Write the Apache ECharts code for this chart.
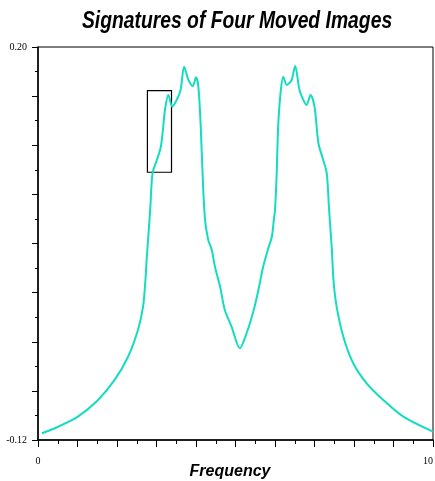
<!DOCTYPE html>
<html>
<head>
<meta charset="utf-8">
<script src="https://cdn.jsdelivr.net/npm/echarts@6/dist/echarts.min.js"></script>
<style>
  html, body { margin: 0; padding: 0; background: #fff; }
  #chart { width: 435px; height: 481px; }
</style>
</head>
<body>
<div id="chart"></div>
<script>
// Frequency samples and the magnitude of the signature at each one
const frequency = [
  0.10, 0.51, 1.01, 1.52, 1.94, 2.28, 2.53, 2.66, 2.72, 2.75, 2.84, 2.90,
  3.01, 3.11, 3.17, 3.22, 3.30, 3.40, 3.51, 3.61, 3.70, 3.81, 3.92, 4.00,
  4.06, 4.12, 4.18, 4.23, 4.31, 4.40, 4.48, 4.61, 4.73, 4.90, 5.11, 5.28,
  5.45, 5.58, 5.70, 5.83, 5.92, 5.97, 6.00, 6.04, 6.08, 6.14, 6.21, 6.30,
  6.42, 6.51, 6.62, 6.72, 6.80, 6.90, 7.00, 7.10, 7.22, 7.31, 7.37, 7.44,
  7.48, 7.56, 7.73, 7.98, 8.32, 8.74, 9.25, 10.0
];
const magnitude = [
  -0.1145, -0.1092, -0.1010, -0.0874, -0.0711, -0.0522, -0.0304, -0.0114, 0.0103, 0.0266, 0.0673, 0.0972,
  0.1080, 0.1188, 0.1351, 0.1501, 0.1609, 0.1514, 0.1568, 0.1650, 0.1840, 0.1731, 0.1682, 0.1753,
  0.1677, 0.1351, 0.0863, 0.0591, 0.0429, 0.0347, 0.0211, 0.0048, -0.0141, -0.0277, -0.0453, -0.0331,
  -0.0155, 0.0022, 0.0211, 0.0361, 0.0455, 0.0591, 0.0673, 0.0944, 0.1351, 0.1623, 0.1758, 0.1691,
  0.1731, 0.1845, 0.1650, 0.1568, 0.1528, 0.1609, 0.1514, 0.1216, 0.1080, 0.0972, 0.0673, 0.0347,
  0.0103, -0.0114, -0.0359, -0.0575, -0.0738, -0.0874, -0.1010, -0.1132
];

// Highlighted window: [x0, x1] by [y0, y1]
const boxX = [2.77, 3.38];
const boxY = [0.098, 0.1644];

// Axis ranges and the only tick values that carry a label
const xRange = [0, 10];
const yRange = [-0.12, 0.20];
const xLabelled = [0, 10];
const yLabelled = [-0.12, 0.20];

const near = (v, list) => list.some(t => Math.abs(v - t) < 1e-9);

const headingFont = '"Liberation Sans", Arial, sans-serif';

const chart = echarts.init(document.getElementById('chart'), null, { renderer: 'canvas' });

chart.setOption({
  animation: false,
  backgroundColor: '#ffffff',
  graphic: [{
    // condensed bold-italic heading, centred over the plot
    type: 'text',
    x: 237,
    y: 22,
    scaleX: 0.84,
    style: {
      text: 'Signatures of Four Moved Images',
      align: 'center',
      verticalAlign: 'middle',
      fontFamily: headingFont,
      fontSize: 23,
      fontWeight: 'bold',
      fontStyle: 'italic',
      fill: '#000'
    }
  }, {
    // x-axis title
    type: 'text',
    x: 230,
    y: 472,
    style: {
      text: 'Frequency',
      align: 'center',
      verticalAlign: 'middle',
      fontFamily: headingFont,
      fontSize: 16,
      fontWeight: 'bold',
      fontStyle: 'italic',
      fill: '#000'
    }
  }],
  grid: {
    left: 38, right: 2, top: 47, bottom: 41,
    containLabel: false,
    outerBoundsMode: 'none',
    show: true, borderColor: '#000', borderWidth: 1, backgroundColor: 'transparent'
  },
  xAxis: {
    type: 'value',
    min: xRange[0], max: xRange[1], interval: 1,
    axisLine: { show: true, onZero: false, lineStyle: { color: '#000', width: 1.5 } },
    axisTick: { show: true, inside: false, length: 7, lineStyle: { color: '#000', width: 1 } },
    minorTick: { show: true, splitNumber: 2, length: 4, lineStyle: { color: '#000', width: 1 } },
    splitLine: { show: false },
    axisLabel: {
      margin: 16,
      alignMaxLabel: 'right',
      fontFamily: '"Liberation Serif", "Times New Roman", serif',
      fontSize: 10, color: '#000',
      formatter: v => near(v, xLabelled) ? String(Math.round(v)) : ''
    }
  },
  yAxis: {
    type: 'value',
    min: yRange[0], max: yRange[1], interval: 0.04,
    name: 'Magnitude',
    nameLocation: 'middle',
    nameRotate: 90,
    nameGap: 13,
    nameTextStyle: {
      fontFamily: headingFont,
      fontSize: 16, fontWeight: 'bold', fontStyle: 'italic', color: '#000'
    },
    axisLine: { show: true, onZero: false, lineStyle: { color: '#000', width: 1.5 } },
    axisTick: { show: true, inside: false, length: 6, lineStyle: { color: '#000', width: 1 } },
    minorTick: { show: true, splitNumber: 2, length: 3, lineStyle: { color: '#000', width: 1 } },
    splitLine: { show: false },
    axisLabel: {
      margin: 11,
      fontFamily: '"Liberation Serif", "Times New Roman", serif',
      fontSize: 10, color: '#000',
      formatter: v => near(v, yLabelled) ? v.toFixed(2) : ''
    }
  },
  series: [{
    type: 'line',
    data: frequency.map((f, i) => [f, magnitude[i]]),
    showSymbol: false,
    smooth: 0.3,
    lineStyle: { color: '#14dcc0', width: 2 },
    markArea: {
      silent: true,
      itemStyle: { color: 'rgba(0,0,0,0)', borderColor: '#000', borderWidth: 1.2 },
      data: [[
        { coord: [boxX[0], boxY[1]] },
        { coord: [boxX[1], boxY[0]] }
      ]]
    }
  }]
});
</script>
</body>
</html>
